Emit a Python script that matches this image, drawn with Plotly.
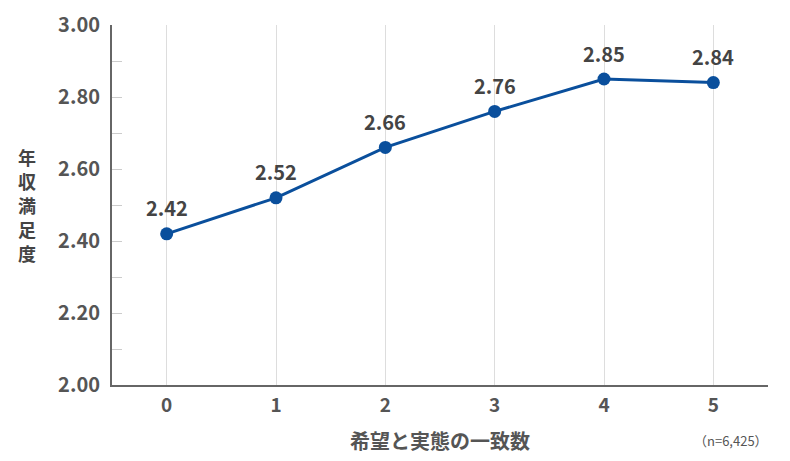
import plotly.graph_objects as go

categories = [0, 1, 2, 3, 4, 5]
values = [2.42, 2.52, 2.66, 2.76, 2.85, 2.84]
y_tick_vals = [2.0, 2.2, 2.4, 2.6, 2.8, 3.0]
y_tick_text = ["2.00", "2.20", "2.40", "2.60", "2.80", "3.00"]
y_title = "年収満足度"
x_title = "希望と実態の一致数"
note = "（n=6,425）"

FONT = "Noto Sans CJK JP"
fig = go.Figure()
fig.add_trace(go.Scatter(
    x=categories, y=values, mode="lines+markers",
    line=dict(color="#0a4f9c", width=3),
    marker=dict(color="#0a4f9c", size=13),
    cliponaxis=False, hoverinfo="skip",
))
for c, v in zip(categories, values):
    fig.add_annotation(
        x=c, y=v, text=f"{v:.2f}", showarrow=False, yshift=26,
        xanchor="center", yanchor="middle",
        font=dict(family=FONT, size=20, color="#444444", weight="bold"),
    )
fig.update_layout(
    width=790, height=461,
    margin=dict(l=112, r=22, t=25, b=76),
    plot_bgcolor="white", paper_bgcolor="white",
    showlegend=False,
    font=dict(family=FONT, color="#555555"),
    xaxis=dict(
        range=[-0.5, 5.5], tickvals=categories, ticktext=[str(c) for c in categories],
        showgrid=True, gridcolor="#dddddd", gridwidth=1,
        showline=True, linecolor="#666666", linewidth=2,
        ticks="", tickfont=dict(family=FONT, size=19, color="#555555", weight="bold"),
        ticklabelstandoff=2, zeroline=False, automargin=False,
    ),
    yaxis=dict(
        range=[2.0, 3.0], tickvals=y_tick_vals, ticktext=y_tick_text,
        showgrid=False, showline=True, linecolor="#666666", linewidth=2,
        ticks="inside", ticklen=10, tickcolor="#cccccc", tickwidth=1,
        minor=dict(dtick=0.1, ticks="inside", ticklen=10, tickcolor="#cccccc", tickwidth=1, showgrid=False),
        tickfont=dict(family=FONT, size=20, color="#555555", weight="bold"),
        ticklabelstandoff=6, zeroline=False, automargin=False,
    ),
)
n = len(y_title)
for i, ch in enumerate(y_title):
    fig.add_annotation(
        text=ch, xref="paper", yref="paper",
        x=-0.13, y=0.5, yshift=(n - 1) / 2 * 24 - i * 24,
        xanchor="center", yanchor="middle", showarrow=False,
        font=dict(family=FONT, size=18, color="#444444", weight="bold"),
    )
fig.add_annotation(
    text=x_title, xref="paper", yref="paper",
    x=0.5, y=-0.155, xanchor="center", yanchor="middle", showarrow=False,
    font=dict(family=FONT, size=20, color="#555555", weight="bold"),
)
fig.add_annotation(
    text=note, xref="paper", yref="paper",
    x=1.0, y=-0.155, xanchor="right", yanchor="middle", showarrow=False, xshift=2,
    font=dict(family=FONT, size=13, color="#555555"),
)
fig.write_html("out.html", post_script="document.body.style.margin='0';",
               config={"displayModeBar": False})
